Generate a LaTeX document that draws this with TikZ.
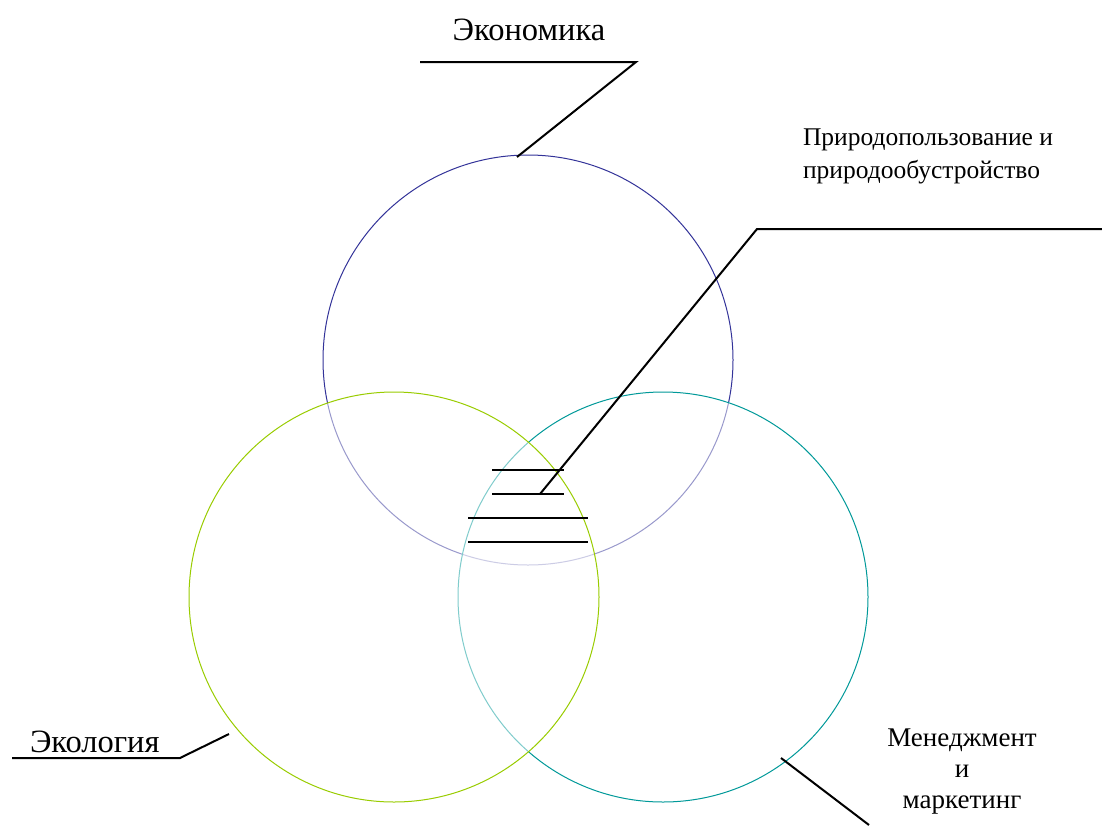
\documentclass[tikz,border=0pt]{standalone}
\usepackage{fontspec}
\setmainfont{Liberation Serif}
\usepackage{tikz}
\usetikzlibrary{positioning}
\definecolor{econblue}{RGB}{51,51,153}
\definecolor{ecogreen}{RGB}{153,204,0}
\definecolor{mgmtteal}{RGB}{0,153,153}

\begin{document}
\begin{tikzpicture}[x=1pt,y=-1pt,line width=2pt]
\tikzstyle{every ring}=[circle,minimum size=410pt,inner sep=0pt,line width=1pt,fill=white,fill opacity=0.5]
\tikzstyle{big}=[font=\fontsize{32.5}{38}\selectfont,inner sep=0pt]
\tikzstyle{small}=[font=\fontsize{25.5}{33}\selectfont,inner sep=0pt]
\tikzstyle{mid}=[font=\fontsize{27}{31}\selectfont,inner sep=0pt]
\useasboundingbox (0,0) rectangle (1102,825);
% circles
\node[every ring,draw=econblue] (E) at (528,360) {};
\node[every ring,draw=mgmtteal] (M) at (663,597) {};
\node[every ring,draw=ecogreen] (L) at (394,597) {};
% labels
\node[big,anchor=base] (econ) at (529,40) {Экономика};
\node[big,anchor=base west] (eco) at (29,752) {Экология};
\node[small,anchor=base west,align=left] (nat) at (802,178) {Природопользование и\\природообустройство};
\node[mid,anchor=base,align=center] (mgmt) at (962,808) {Менеджмент\\и\\маркетинг};
% leaders
\coordinate (e1) at (420,62);
\coordinate (e2) at (636,62);
\coordinate (e3) at (517,157);
\draw (e1) -- (e2) -- (e3);
\coordinate (l1) at (12,758);
\coordinate (l2) at (180,758);
\coordinate (l3) at (229,734);
\draw (l1) -- (l2) -- (l3);
\coordinate (m1) at (781,758);
\coordinate (m2) at (869,825);
\draw (m1) -- (m2);
\coordinate (n1) at (1102,229);
\coordinate (n2) at (757,229);
\coordinate (n3) at (540,494);
\draw (n1) -- (n2) -- (n3);
% hatching of the common part
\coordinate (h1) at (492,470); \coordinate (h2) at (564,470);
\coordinate (h3) at (492,494); \coordinate (h4) at (564,494);
\coordinate (h5) at (468,518); \coordinate (h6) at (588,518);
\coordinate (h7) at (468,542); \coordinate (h8) at (588,542);
\draw (h1) -- (h2);
\draw (h3) -- (h4);
\draw (h5) -- (h6);
\draw (h7) -- (h8);
\end{tikzpicture}
\end{document}
